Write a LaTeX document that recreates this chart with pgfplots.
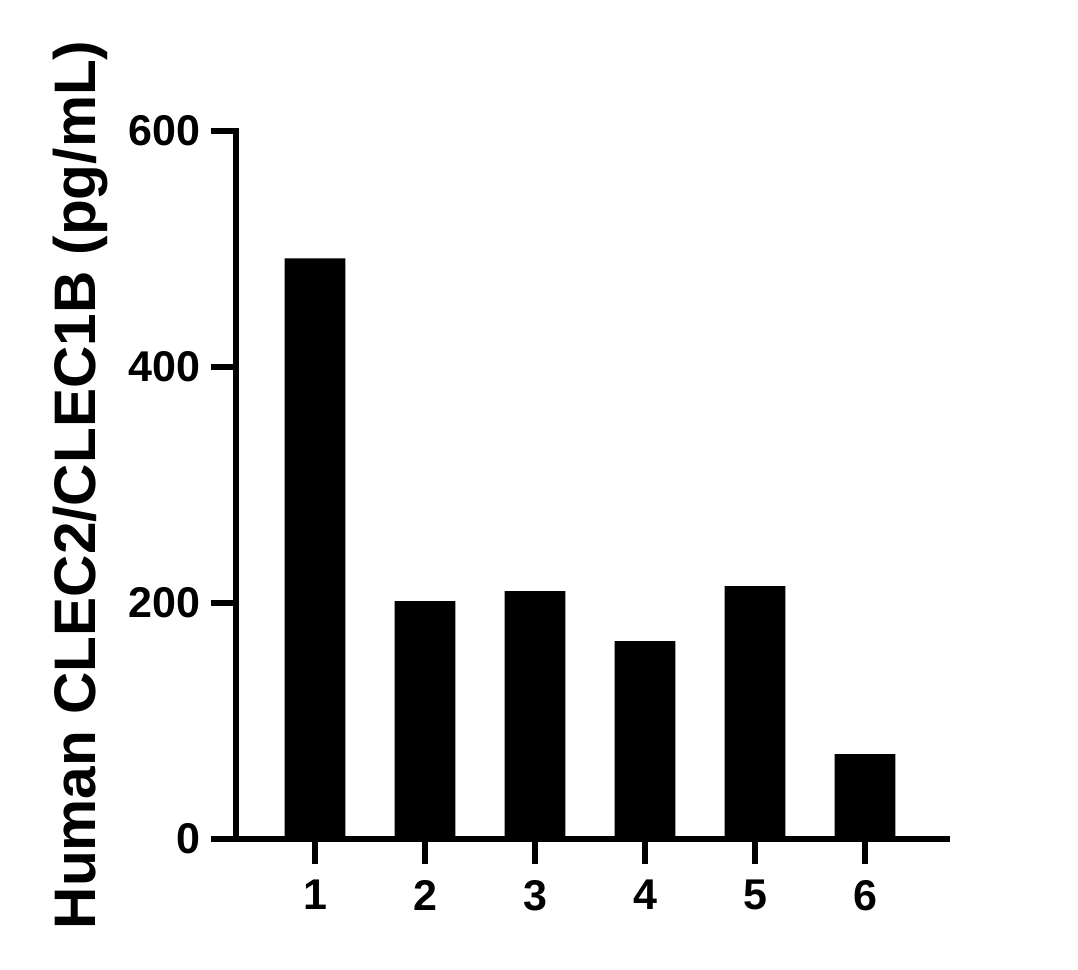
\documentclass[border=0pt]{standalone}
\usepackage{pgfplots}
\pgfplotsset{compat=1.18}
\usepackage{fontspec}
\setmainfont{Liberation Sans}

\begin{document}
\begin{tikzpicture}
\useasboundingbox (0,0) rectangle (539pt,485pt);
\begin{axis}[
    at={(118pt,65.65pt)}, anchor=south west,
    scale only axis,
    width=355.5pt, height=353.85pt,
    xmin=0.282, xmax=6.745,
    ymin=0, ymax=600,
    axis x line=bottom, axis y line=left,
    axis line style={-, line width=3pt, line cap=rect},
    tick align=outside,
    major tick length=12.5pt,
    every tick/.style={black, line width=3pt},
    xtick={1,2,3,4,5,6},
    ytick={0,200,400,600},
    /pgf/number format/assume math mode=true,
    tick label style={font=\bfseries\fontsize{21.5}{21.5}\selectfont},
    yticklabel style={inner sep=0pt, xshift=-5pt},
    xticklabel style={inner sep=0pt, yshift=-8pt},
    ylabel={Human CLEC2/CLEC1B (pg/mL)},
    ylabel style={font=\bfseries\fontsize{29.3}{29.3}\selectfont,
        at={(axis description cs:-0.18,0.5)}, anchor=south, inner sep=0pt, rotate=0},
    ybar, bar width=30.4pt,
]
\addplot[fill=black, draw=none] coordinates {
    (1,492) (2,201.5) (3,210) (4,167.6) (5,214.2) (6,71.8)
};
\end{axis}
\end{tikzpicture}
\end{document}
